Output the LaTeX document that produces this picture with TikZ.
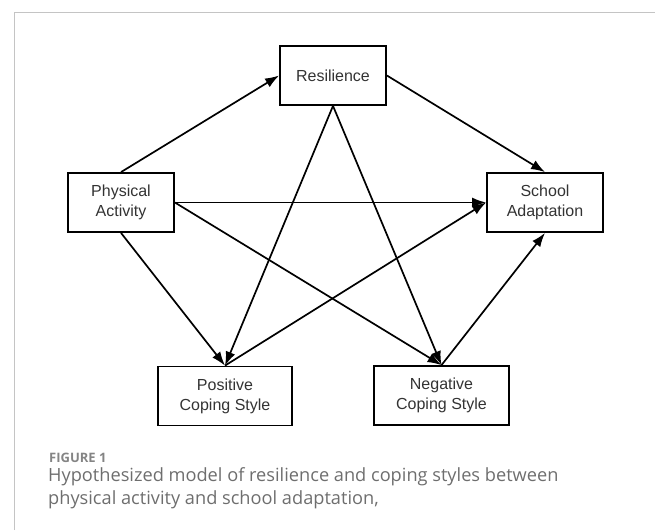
\documentclass[tikz,border=0pt]{standalone}
\usepackage{fontspec}
\setmainfont{Open Sans}
\newfontfamily\boxfont{Liberation Sans}
\usepackage{tikz}
\usetikzlibrary{arrows.meta, positioning}

\definecolor{framegray}{HTML}{C4C4C4}
\definecolor{capgray}{HTML}{6E6E6E}
\tikzset{
    var/.style={draw, line width=1.8pt, align=center, minimum height=59pt, inner sep=0pt,
        font=\boxfont\fontsize{16}{20}\selectfont, text=black!80},
    path/.style={line width=1.7pt, -{Latex[length=14pt, width=10pt]}}
}

\begin{document}
\begin{tikzpicture}[x=1pt, y=-1pt]
            \useasboundingbox (0, 0) rectangle (655, 530);
            \draw[framegray, line width=1pt] (14, 530) -- (14, 12) -- (655, 12);
            \node[var, minimum width=106pt] (res) at (333, 75.5) {Resilience};
            \node[var, minimum width=106pt] (pa) at (121, 202.5) {Physical\\Activity};
            \node[var, minimum width=116pt] (sa) at (545, 202.5) {School\\Adaptation};
            \node[var, minimum width=134pt] (pos) at (225, 396) {Positive\\Coping Style};
            \node[var, minimum width=135pt] (neg) at (441.5, 395.5) {Negative\\Coping Style};
            \draw[path] (pa.north) -- (res.west);
            \draw[path] (res.east) -- (sa.north);
            \draw[path] (pa.east) -- (sa.west);
            \draw[path] (pa.east) -- (neg.north);
            \draw[path] (pa.south) -- (pos.north);
            \draw[path] (res.south) -- (pos.north);
            \draw[path] (res.south) -- (neg.north);
            \draw[path] (pos.north) -- (sa.west);
            \draw[path] (neg.north) -- (sa.south);
            \node[anchor=base west, inner sep=0pt, text=capgray!85, font=\bfseries\fontsize{13}{15}\selectfont] (fig) at (49, 462) {FIGURE 1};
            \node[anchor=base west, inner sep=0pt, text=capgray, font=\fontsize{18.2}{22}\selectfont] (cap) at (48, 481) {Hypothesized model of resilience and coping styles between};
            \node[anchor=base west, inner sep=0pt, text=capgray, font=\fontsize{18.2}{22}\selectfont] (capb) at (48, 504) {physical activity and school adaptation,};
        \end{tikzpicture}
\end{document}
